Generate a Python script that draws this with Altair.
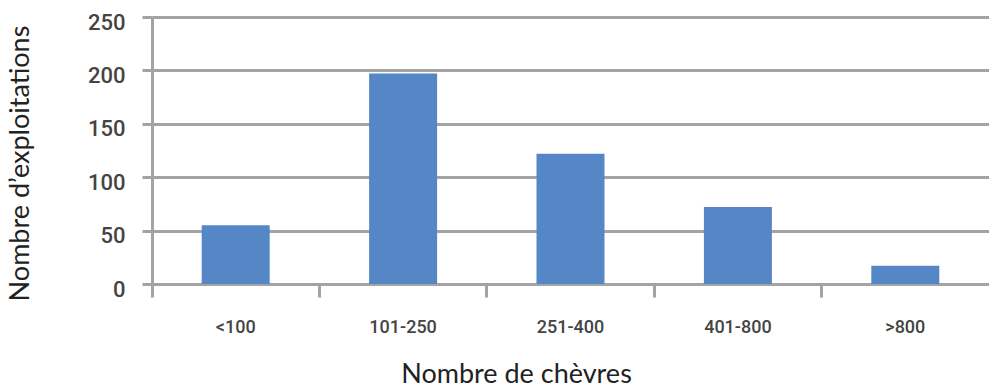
import altair as alt
import pandas as pd

categories = ["<100", "101-250", "251-400", "401-800", ">800"]
values = [55, 197, 122, 72, 17]
y_ticks = [0, 50, 100, 150, 200, 250]

df = pd.DataFrame({"cat": categories, "n": values})

grey = "#a3a3a3"
label_font = "Roboto"

chart = alt.Chart(df).mark_bar(size=68, color="#5587c6").encode(
    x=alt.X(
        "cat:N",
        sort=categories,
        scale=alt.Scale(paddingInner=0, paddingOuter=0),
        axis=alt.Axis(
            title="Nombre de chèvres",
            labelAngle=0,
            bandPosition=0,
            ticks=True,
            tickSize=13,
            tickWidth=3,
            tickColor=grey,
            domain=True,
            domainColor=grey,
            domainWidth=3,
            grid=False,
            labelFont=label_font,
            labelFontWeight=500,
            labelFontSize=18,
            labelColor="#444444",
            labelPadding=21,
            labelBaseline="top",
            titleFont="Lato",
            titleFontSize=27,
            titleFontWeight="normal",
            titleColor="#222222",
            titleX=364,
            titleY=98,
            titleAlign="center",
            titleBaseline="alphabetic",
        ),
    ),
    y=alt.Y(
        "n:Q",
        scale=alt.Scale(domain=[0, 250]),
        axis=alt.Axis(
            title="Nombre d’exploitations",
            values=y_ticks,
            ticks=True,
            tickSize=10,
            tickWidth=3,
            tickColor=grey,
            domain=True,
            domainColor=grey,
            domainWidth=3,
            grid=True,
            gridColor=grey,
            gridWidth=3,
            labelFont=label_font,
            labelFontWeight=500,
            labelFontSize=22,
            labelColor="#444444",
            labelPadding=17,
            labelOffset=5,
            titleFont="Lato",
            titleFontSize=27,
            titleFontWeight="normal",
            titleColor="#222222",
            titleX=-124,
            titleY=146,
            titleAngle=270,
            titleAlign="center",
            titleBaseline="alphabetic",
        ),
    ),
).properties(
    width=837,
    height=267,
    autosize=alt.AutoSizeParams(type="none"),
    padding={"left": 152, "top": 17, "right": 0, "bottom": 104},
).configure_view(stroke=None)

chart.save("out.html", embed_options={"renderer": "svg", "actions": False})
